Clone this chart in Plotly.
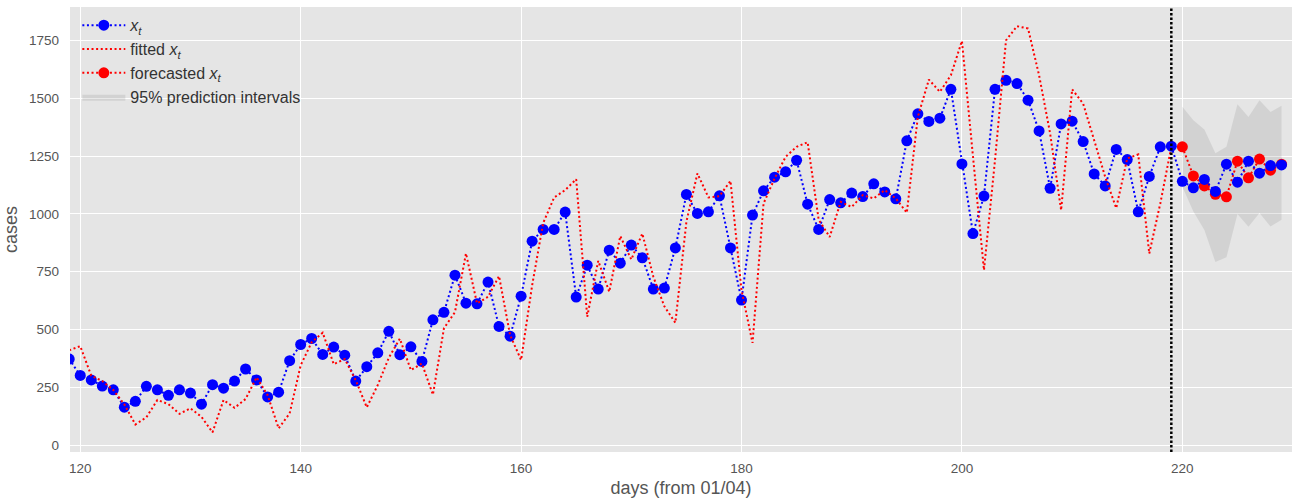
import plotly.graph_objects as go

# ---------------- data ----------------
obs_days = list(range(119, 230))
obs_cases = [372, 301, 282, 255, 239, 164, 189, 254, 239, 215,
             239, 225, 177, 261, 246, 277, 329, 282, 208, 229,
             365, 435, 461, 392, 424, 389, 277, 339, 399, 492,
             391, 425, 362, 542, 574, 735, 614, 611, 705, 513,
             471, 644, 882, 933, 933, 1008, 640, 778, 675, 843,
             787, 865, 810, 675, 679, 853, 1084, 1002, 1009, 1078,
             853, 627, 995, 1100, 1159, 1182, 1232, 1042, 933, 1062,
             1048, 1090, 1075, 1130, 1095, 1065, 1316, 1433, 1400, 1414,
             1539, 1216, 915, 1077, 1539, 1578, 1564, 1492, 1359, 1111,
             1389, 1401, 1313, 1173, 1121, 1279, 1235, 1009, 1162, 1290,
             1293, 1141, 1113, 1149, 1097, 1215, 1137, 1228, 1176, 1209,
             1212]

fit_days = list(range(119, 220))
fit_cases = [410, 428, 300, 277, 238, 176, 89, 120, 195, 177,
             135, 159, 122, 55, 195, 161, 199, 293, 216, 72,
             137, 345, 445, 486, 350, 372, 280, 163, 260, 378,
             460, 324, 353, 218, 505, 575, 829, 613, 641, 731,
             476, 368, 690, 960, 1071, 1103, 1150, 555, 797, 663,
             904, 803, 915, 728, 600, 529, 966, 1175, 1071, 1077,
             1143, 670, 442, 1045, 1153, 1247, 1290, 1310, 975, 900,
             1052, 1030, 1081, 1067, 1103, 1067, 1005, 1420, 1581, 1528,
             1600, 1748, 1250, 757, 1232, 1751, 1812, 1802, 1600, 1349,
             1016, 1539, 1477, 1319, 1160, 1025, 1240, 1257, 829, 1045,
             1290]

fc_days = list(range(220, 230))
fc_cases = [1290, 1164, 1121, 1085, 1074, 1228, 1156, 1237, 1189, 1215]
pi_upper = [1463, 1405, 1365, 1262, 1290, 1474, 1419, 1492, 1441, 1468]
pi_lower = [1117, 1010, 930, 792, 812, 1000, 944, 1004, 946, 975]

cutoff_day = 219
x_ticks = [120, 140, 160, 180, 200, 220]
y_ticks = [0, 250, 500, 750, 1000, 1250, 1500, 1750]

# ---------------- figure ----------------
DOT = "2px,2.6px"
fig = go.Figure()

fig.add_trace(go.Scatter(
    x=fc_days + fc_days[::-1],
    y=pi_upper + pi_lower[::-1],
    fill="toself", fillcolor="rgba(128,128,128,0.18)",
    line=dict(width=0), mode="lines", hoverinfo="skip",
    name="95% prediction intervals", legendrank=4))

fig.add_trace(go.Scatter(
    x=fc_days, y=fc_cases, mode="lines+markers",
    line=dict(color="#ff0000", width=2, dash=DOT),
    marker=dict(color="#ff0000", size=11),
    name="forecasted <i>x</i><sub><i>t</i></sub>", legendrank=3))

fig.add_trace(go.Scatter(
    x=obs_days, y=obs_cases, mode="lines+markers",
    line=dict(color="#0000ff", width=2, dash=DOT),
    marker=dict(color="#0000ff", size=11),
    name="<i>x</i><sub><i>t</i></sub>", legendrank=1))

fig.add_trace(go.Scatter(
    x=fit_days, y=fit_cases, mode="lines",
    line=dict(color="#ff0000", width=2, dash=DOT),
    name="fitted <i>x</i><sub><i>t</i></sub>", legendrank=2))

fig.add_shape(type="line", x0=cutoff_day, x1=cutoff_day, y0=0, y1=1,
              xref="x", yref="paper", layer="above",
              line=dict(color="black", width=2.5, dash="2.5px,2px"))

font_family = "Liberation Sans, Arial, sans-serif"
fig.update_layout(
    width=1292, height=500,
    margin=dict(l=70, r=0, t=7, b=48, autoexpand=False),
    paper_bgcolor="white", plot_bgcolor="#e5e5e5",
    font=dict(family=font_family, color="#555555", size=13.5),
    showlegend=True,
    legend=dict(x=0.006, y=0.997, xanchor="left", yanchor="top",
                bgcolor="rgba(0,0,0,0)", font=dict(size=16, color="#333333"),
                itemwidth=43, tracegroupgap=0),
    xaxis=dict(range=[119.07, 229.95], tickvals=x_ticks,
               showgrid=True, gridcolor="white", gridwidth=1.3,
               zeroline=False, showline=False, ticks="",
               ticklabelstandoff=6, automargin=False,
               title=dict(text="days (from 01/04)", font=dict(size=18, color="#555555"),
                          standoff=6)),
    yaxis=dict(range=[-30, 1895], tickvals=y_ticks,
               showgrid=True, gridcolor="white", gridwidth=1.3,
               zeroline=False, showline=False, ticks="",
               ticklabelstandoff=10, automargin=False,
               title=dict(text="cases", font=dict(size=18, color="#555555"),
                          standoff=6)),
)

fig.write_html("out.html",
               config={"displayModeBar": False},
               post_script="document.body.style.margin='0';document.body.style.overflow='hidden';")
